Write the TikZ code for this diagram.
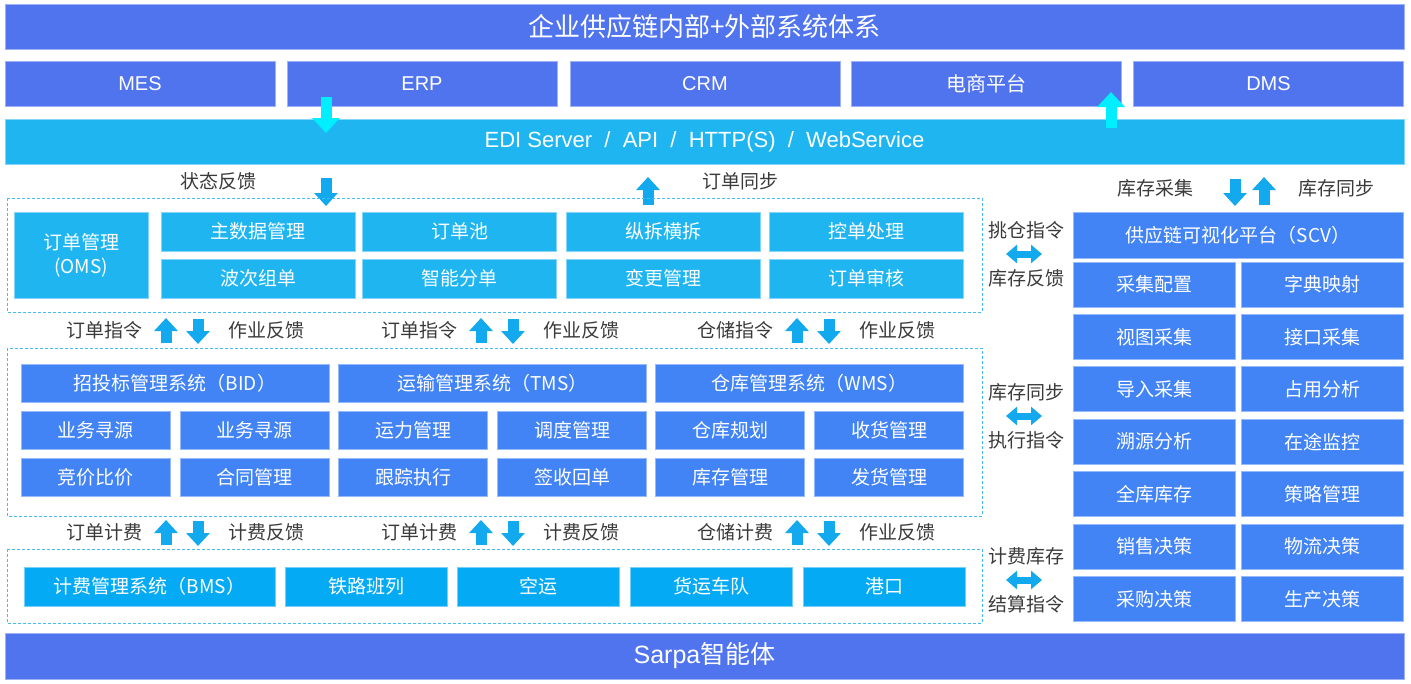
\documentclass[tikz,border=0pt]{standalone}
\usepackage{fontspec}
\setmainfont{Noto Sans CJK SC}
\newfontfamily\helv{Liberation Sans}
\usetikzlibrary{arrows.meta}
\definecolor{bandblue}{HTML}{5073EE}
\definecolor{skyblue}{HTML}{1EB5F1}
\definecolor{sysblue}{HTML}{4284F5}
\definecolor{billblue}{HTML}{05AAF5}
\definecolor{dashblue}{HTML}{45BCEF}
\definecolor{pipecyan}{HTML}{00EEFF}
\definecolor{tipblue}{HTML}{12A9EE}
\definecolor{wordgray}{HTML}{3A3A3A}

\begin{document}
\begin{tikzpicture}[x=1pt,y=-1pt,
  box/.style={fill=#1,draw=#1!55!white,line width=0.8pt,text=white,inner sep=0pt,align=center,font=\fontsize{19}{24}\selectfont},
  band/.style={box=#1,minimum width=1399pt,minimum height=45pt},
  frame/.style={draw=dashblue,line width=0.9pt,dash pattern=on 3pt off 2pt},
  word/.style={text=wordgray,inner sep=0pt,font=\fontsize{19}{23}\selectfont},
  uparr/.style={tipblue,line width=11pt,-{Triangle[width=23pt,length=13pt]}},
  duplex/.style={tipblue,line width=7pt,{Triangle[width=18pt,length=11pt]}-{Triangle[width=18pt,length=11pt]}},
  pipe/.style={pipecyan,line width=11pt,-{Triangle[width=27pt,length=15pt]}}]
\useasboundingbox (0,0) rectangle (1411,683);
\node[band=bandblue,font=\fontsize{26}{30}\selectfont] (whole) at (704.5,26.5) {企业供应链内部+外部系统体系};
\foreach \n/\x/\t in {mes/140/{\helv MES},erp/422/{\helv ERP},crm/705/{\helv CRM},eshop/986/电商平台,dms/1268.5/{\helv DMS}}
  \node[box=bandblue,minimum width=270pt,minimum height=45pt,font=\fontsize{20}{24}\selectfont] (\n) at (\x,84) {\t};
\node[band=skyblue,font=\fontsize{22}{26}\selectfont\helv] (edi) at (704.5,141.5) {EDI Server \ / \ API \ / \ HTTP(S) \ / \ WebService};
\draw[pipe] (326,97) -- (326,133);
\draw[pipe] (1111,128) -- (1111,92);

\node[word] (state) at (218,181) {状态反馈};
\node[word] (sync) at (740,181) {订单同步};
\draw[uparr] (326,178) -- (326,206);
\draw[uparr] (648,205) -- (648,177);
\node[word] (stockget) at (1155,188) {库存采集};
\node[word] (stockput) at (1336,188) {库存同步};
\draw[uparr] (1235,179) -- (1235,206);
\draw[uparr] (1264,205) -- (1264,177);

\draw[frame] (7,198) rectangle (982,312);
\node[box=skyblue,minimum width=134pt,minimum height=86pt] (oms) at (81,255) {订单管理\\(OMS)};
\foreach \n/\x/\t/\b in {a/258/主数据管理/波次组单,b/459.5/订单池/智能分单,c/663/纵拆横拆/变更管理,d/866.5/控单处理/订单审核}{
  \node[box=skyblue,minimum width=194pt,minimum height=39pt] (oms\n1) at (\x,231.5) {\t};
  \node[box=skyblue,minimum width=194pt,minimum height=39pt] (oms\n2) at (\x,278.5) {\b};
}

\foreach \n/\x/\l/\r in {a/0/订单指令/作业反馈,b/315/订单指令/作业反馈,c/631/仓储指令/作业反馈}{
  \node[word] (cmd\n) at (104+\x,330) {\l};
  \node[word] (back\n) at (266+\x,330) {\r};
  \draw[uparr] (166+\x,343) -- (166+\x,318);
  \draw[uparr] (198+\x,319) -- (198+\x,344);
}

\draw[frame] (7,348) rectangle (982,516);
\foreach \n/\x/\t in {bid/175/招投标管理系统（BID）,tms/492.5/运输管理系统（TMS）,wms/809.5/仓库管理系统（WMS）}
  \node[box=sysblue,minimum width=308pt,minimum height=38pt] (\n) at (\x,383) {\t};
\foreach \n/\x/\t/\b in {1/95.5/业务寻源/竞价比价,2/254.5/业务寻源/合同管理,3/413/运力管理/跟踪执行,4/572/调度管理/签收回单,5/730/仓库规划/库存管理,6/889/收货管理/发货管理}{
  \node[box=sysblue,minimum width=149pt,minimum height=38pt] (top\n) at (\x,430) {\t};
  \node[box=sysblue,minimum width=149pt,minimum height=38pt] (low\n) at (\x,477) {\b};
}

\foreach \n/\x/\l/\r in {a/0/订单计费/计费反馈,b/315/订单计费/计费反馈,c/631/仓储计费/作业反馈}{
  \node[word] (fee\n) at (104+\x,532) {\l};
  \node[word] (feeback\n) at (266+\x,532) {\r};
  \draw[uparr] (166+\x,545) -- (166+\x,520);
  \draw[uparr] (198+\x,521) -- (198+\x,546);
}

\draw[frame] (7,549) rectangle (982,623);
\node[box=billblue,minimum width=251pt,minimum height=39pt] (bms) at (149.5,586.5) {计费管理系统（BMS）};
\foreach \n/\x/\t in {rail/366/铁路班列,air/538/空运,fleet/711/货运车队,port/884/港口}
  \node[box=billblue,minimum width=162pt,minimum height=39pt] (\n) at (\x,586.5) {\t};

\node[band=bandblue,minimum height=46pt,font=\fontsize{25}{28}\selectfont] (sarpa) at (704.5,656) {{\helv Sarpa}智能体};

\node[box=sysblue,minimum width=330pt,minimum height=46pt] (scv) at (1238,235) {供应链可视化平台（SCV）};
\foreach \i/\l/\r in {0/采集配置/字典映射,1/视图采集/接口采集,2/导入采集/占用分析,3/溯源分析/在途监控,4/全库库存/策略管理,5/销售决策/物流决策,6/采购决策/生产决策}{
  \node[box=sysblue,minimum width=162pt,minimum height=45pt] (scvl\i) at (1154.5,284.5+52.4*\i) {\l};
  \node[box=sysblue,minimum width=162pt,minimum height=45pt] (scvr\i) at (1322,284.5+52.4*\i) {\r};
}

\foreach \n/\y/\a/\b in {pick/230/挑仓指令/库存反馈,exec/392/库存同步/执行指令,settle/556/计费库存/结算指令}{
  \node[word] (\n a) at (1026,\y) {\a};
  \node[word] (\n b) at (1026,\y+48) {\b};
  \draw[duplex] (1006,\y+24) -- (1042,\y+24);
}
\end{tikzpicture}
\end{document}
